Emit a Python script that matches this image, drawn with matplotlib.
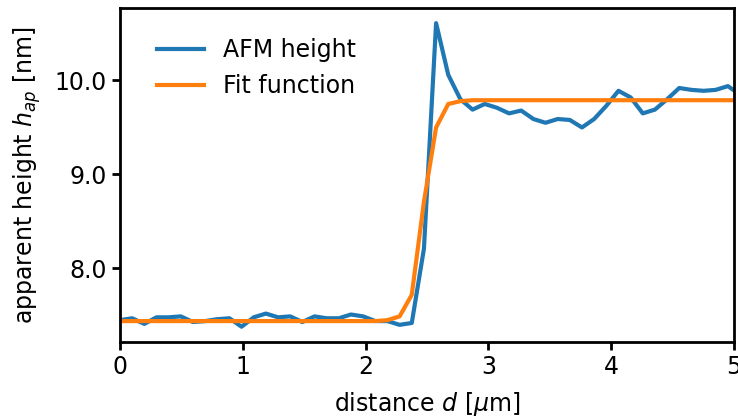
import numpy as np
import matplotlib
matplotlib.use("Agg")
import matplotlib.pyplot as plt

# profile sampled every 0.099 um
step = 0.099
afm_height = [7.45, 7.47, 7.41, 7.48, 7.48, 7.49, 7.43, 7.44, 7.46, 7.47,
              7.38, 7.48, 7.52, 7.48, 7.49, 7.43, 7.49, 7.47, 7.47, 7.51,
              7.49, 7.44, 7.44, 7.40, 7.42, 8.21, 10.61, 10.06, 9.80, 9.69,
              9.75, 9.71, 9.65, 9.68, 9.59, 9.55, 9.59, 9.58, 9.50, 9.59,
              9.73, 9.89, 9.82, 9.65, 9.69, 9.80, 9.92, 9.90, 9.89, 9.90,
              9.94, 9.85]
fit_height = [7.44] * 22 + [7.45, 7.49, 7.72, 8.71, 9.50, 9.75, 9.78] + [9.79] * 23

d = np.arange(len(afm_height)) * step

plt.rcParams.update({
    "font.size": 17,
    "axes.linewidth": 2.0,
    "xtick.major.width": 2.0,
    "ytick.major.width": 2.0,
    "xtick.major.size": 6,
    "ytick.major.size": 6,
})

fig = plt.figure(figsize=(7.38, 4.19), dpi=100)
ax = fig.add_axes([0.1626, 0.184, 0.832, 0.797])

ax.plot(d, afm_height, color="#1f77b4", lw=3, label="AFM height")
ax.plot(d, fit_height, color="#ff7f0e", lw=3, label="Fit function")

ax.set_xlim(0, 5)
ax.set_yticks([8.0, 9.0, 10.0])
ax.yaxis.set_major_formatter(matplotlib.ticker.FormatStrFormatter("%.1f"))
ax.set_xlabel(r"distance $d$ [$\mu$m]", labelpad=8)
ax.set_ylabel(r"apparent height $h_{ap}$ [nm]", labelpad=8)
ax.legend(frameon=False, loc="upper left", bbox_to_anchor=(0.025, 0.973))

fig.savefig("out.png", dpi=100)
